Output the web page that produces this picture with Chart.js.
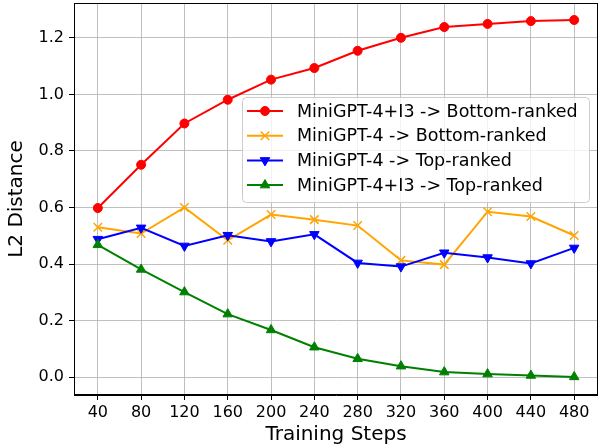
<!DOCTYPE html>
<html>
<head>
<meta charset="utf-8">
<script src="https://cdn.jsdelivr.net/npm/chart.js@4.4.0/dist/chart.umd.min.js"></script>
<style>
    html, body { margin: 0; padding: 0; background: #fff; }
    #wrap { width: 598px; height: 448px; }
</style>
</head>
<body>
<div id="wrap"><canvas id="l2Chart" width="598" height="448"></canvas></div>
<script>
// Data
const steps = [40, 80, 120, 160, 200, 240, 280, 320, 360, 400, 440, 480];
const yTicks = [0, 0.2, 0.4, 0.6, 0.8, 1.0, 1.2];
const seriesNames = [
    'MiniGPT-4+I3 -> Bottom-ranked',
    'MiniGPT-4 -> Bottom-ranked',
    'MiniGPT-4 -> Top-ranked',
    'MiniGPT-4+I3 -> Top-ranked'
];
const i3Bottom = [0.598, 0.751, 0.897, 0.981, 1.052, 1.093, 1.154, 1.200, 1.238, 1.249, 1.259, 1.263];
const baseBottom = [0.530, 0.508, 0.600, 0.484, 0.575, 0.557, 0.536, 0.413, 0.398, 0.585, 0.568, 0.501];
const baseTop = [0.488, 0.528, 0.464, 0.502, 0.480, 0.505, 0.404, 0.391, 0.440, 0.423, 0.402, 0.457];
const i3Top = [0.468, 0.381, 0.301, 0.223, 0.167, 0.106, 0.065, 0.039, 0.018, 0.011, 0.006, 0.001];

const FONT = 'DejaVu Sans';

function points(values) {
    return steps.map((s, i) => ({ x: s, y: values[i] }));
}

function series(label, values, color, style, extra) {
    return Object.assign({
        label: label,
        data: points(values),
        borderColor: color,
        backgroundColor: color,
        pointBackgroundColor: color,
        pointBorderColor: color,
        borderWidth: 2,
        pointStyle: style,
        pointRadius: 5,
        pointBorderWidth: 1,
        pointHoverRadius: 5,
        tension: 0
    }, extra || {});
}

// drop the extra room Chart.js keeps for edge labels
function noEdgePadding(scale) {
    scale.paddingTop = 0;
    scale.paddingBottom = 0;
    scale.paddingLeft = 0;
    scale.paddingRight = 0;
}

// box around the plot + legend drawn inside the plot area
const framePlugin = {
    id: 'frame',
    afterDatasetsDraw(chart) {
        const { ctx, chartArea: a } = chart;
        ctx.save();
        ctx.strokeStyle = '#000';
        ctx.lineWidth = 1;
        ctx.strokeRect(Math.round(a.left) + 0.5, Math.round(a.top) + 0.5,
            Math.round(a.right - a.left) - 1, Math.round(a.bottom - a.top) - 1);

        // legend
        const bx = 242, by = 97, bw = 347, bh = 105;
        ctx.beginPath();
        ctx.roundRect(bx + 0.5, by + 0.5, bw, bh, 4);
        ctx.fillStyle = 'rgba(255,255,255,0.8)';
        ctx.fill();
        ctx.strokeStyle = '#cccccc';
        ctx.stroke();

        chart.data.datasets.forEach((ds, i) => {
            const y = 111 + i * 24.7;
            ctx.strokeStyle = ds.borderColor;
            ctx.lineWidth = 2;
            ctx.beginPath();
            ctx.moveTo(247, y);
            ctx.lineTo(283, y);
            ctx.stroke();
            ctx.fillStyle = ds.borderColor;
            ctx.lineWidth = ds.pointBorderWidth;
            Chart.helpers.drawPoint(ctx, {
                pointStyle: ds.pointStyle,
                rotation: ds.pointRotation || 0,
                radius: ds.pointRadius,
                borderWidth: ds.pointBorderWidth
            }, 265, y);
            ctx.fillStyle = '#000';
            ctx.font = '17.5px "' + FONT + '"';
            ctx.textBaseline = 'middle';
            ctx.textAlign = 'left';
            ctx.fillText(ds.label, 297, y + 1);
        });
        ctx.restore();
    }
};

const ctx = document.getElementById('l2Chart').getContext('2d');
const l2Chart = new Chart(ctx, {
    type: 'line',
    data: {
        datasets: [
            series(seriesNames[0], i3Bottom, '#ff0000', 'circle', { pointRadius: 4.5, order: 4 }),
            series(seriesNames[1], baseBottom, '#ffa500', 'crossRot', { pointRadius: 6, pointBorderWidth: 1.5, order: 3 }),
            series(seriesNames[2], baseTop, '#0000ff', 'triangle', { pointRadius: 5.5, pointRotation: 180, order: 2 }),
            series(seriesNames[3], i3Top, '#008000', 'triangle', { pointRadius: 5.5, order: 1 })
        ]
    },
    options: {
        responsive: false,
        animation: false,
        devicePixelRatio: 1,
        layout: {
            autoPadding: false,
            padding: { top: 3, right: 0, left: 0, bottom: 0 }
        },
        plugins: {
            legend: { display: false },
            tooltip: { enabled: false }
        },
        scales: {
            x: {
                type: 'linear',
                min: 18,
                max: 502,
                afterBuildTicks: (scale) => {
                    scale.ticks = steps.map(v => ({ value: v }));
                },
                afterFit: (scale) => {
                    scale.height = 53;
                    noEdgePadding(scale);
                },
                grid: {
                    color: '#b0b0b0',
                    lineWidth: 0.8,
                    tickColor: '#000',
                    tickLength: 5,
                    tickWidth: 1
                },
                border: { color: '#000', width: 1 },
                ticks: {
                    color: '#000',
                    padding: 3,
                    maxRotation: 0,
                    autoSkip: false,
                    font: { family: FONT, size: 16 }
                },
                title: {
                    display: true,
                    text: 'Training Steps',
                    color: '#000',
                    padding: { top: 0, bottom: 1 },
                    font: { family: FONT, size: 20 }
                }
            },
            y: {
                min: -0.063,
                max: 1.323,
                afterBuildTicks: (scale) => {
                    scale.ticks = yTicks.map(v => ({ value: v }));
                },
                afterFit: (scale) => {
                    scale.width = 74;
                    noEdgePadding(scale);
                },
                grid: {
                    color: '#b0b0b0',
                    lineWidth: 0.8,
                    tickColor: '#000',
                    tickLength: 5,
                    tickWidth: 1
                },
                border: { color: '#000', width: 1 },
                ticks: {
                    color: '#000',
                    padding: 5,
                    autoSkip: false,
                    font: { family: FONT, size: 16 },
                    callback: (v) => Number(v).toFixed(1)
                },
                title: {
                    display: true,
                    text: 'L2 Distance',
                    color: '#000',
                    padding: { top: 5, bottom: 0 },
                    font: { family: FONT, size: 20 }
                }
            }
        }
    },
    plugins: [framePlugin]
});
</script>
</body>
</html>
